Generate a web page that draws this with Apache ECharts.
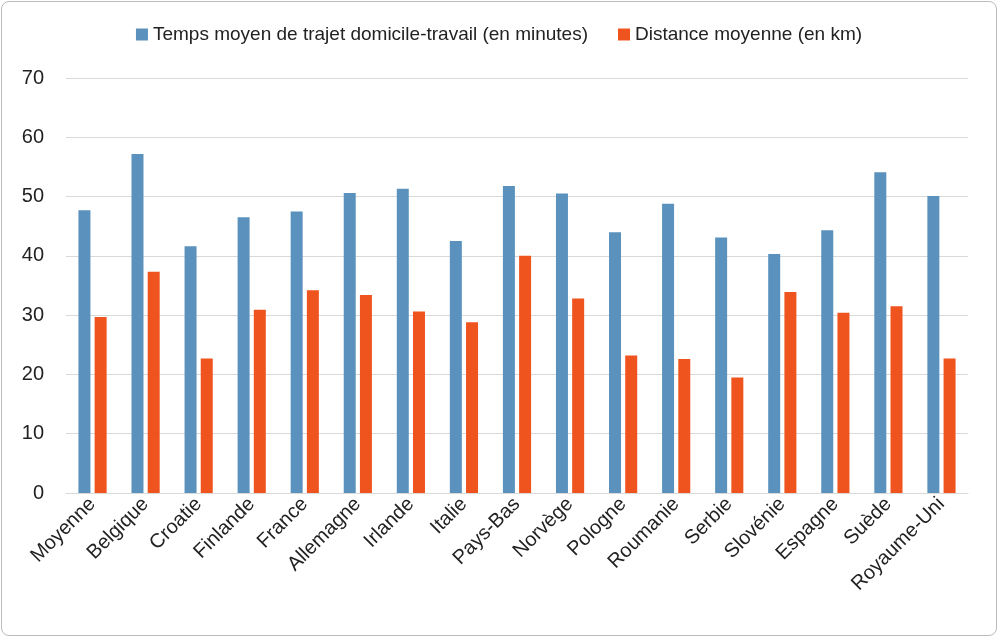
<!DOCTYPE html>
<html><head><meta charset="utf-8">
<script src="https://cdn.jsdelivr.net/npm/echarts@6/dist/echarts.min.js"></script>
<style>html,body{margin:0;padding:0;background:#fff}
#c{position:absolute;left:1px;top:1px;width:996px;height:635px;border:1px solid #bbb;border-radius:8px;box-sizing:border-box}</style>
</head><body><div id="c"></div>
<script>
const categories=["Moyenne","Belgique","Croatie","Finlande","France","Allemagne","Irlande","Italie","Pays-Bas","Norvège","Pologne","Roumanie","Serbie","Slovénie","Espagne","Suède","Royaume-Uni"];
const tempsMoyen=[47.7,57.2,41.6,46.5,47.5,50.6,51.3,42.5,51.8,50.5,44.0,48.8,43.1,40.3,44.3,54.1,50.1];
const distance=[29.7,37.3,22.7,30.9,34.2,33.4,30.6,28.8,40.0,32.8,23.2,22.6,19.5,33.9,30.4,31.5,22.7];
const yTicks=[0,10,20,30,40,50,60,70];
const ch=echarts.init(document.getElementById('c'));
const F="Liberation Sans, Arial, sans-serif";
ch.setOption({
 animation:false,
 textStyle:{fontFamily:F},
 legend:{top:18,left:'center',itemWidth:12,itemHeight:12,itemGap:30,icon:'rect',
  textStyle:{fontFamily:F,fontSize:19,color:'#222'}},
 grid:{left:64,right:28,top:76,bottom:142,containLabel:false},
 xAxis:{type:'category',data:categories,axisTick:{show:false},
  axisLine:{lineStyle:{color:'#d9d9d9'}},
  axisLabel:{rotate:45,interval:0,fontSize:20,color:'#222',fontFamily:F,margin:8}},
 yAxis:{type:'value',min:0,max:70,interval:10,
  axisLabel:{fontSize:20,color:'#222',fontFamily:F,margin:22,formatter:v=>yTicks.includes(v)?String(v):''},
  splitLine:{lineStyle:{color:'#d9d9d9'}}},
 series:[
  {name:'Temps moyen de trajet domicile-travail (en minutes)',type:'bar',data:tempsMoyen,barWidth:12,barGap:'35%',itemStyle:{color:'#5b92bd'}},
  {name:'Distance moyenne (en km)',type:'bar',data:distance,barWidth:12,itemStyle:{color:'#f0541e'}}
 ]
});
</script></body></html>
